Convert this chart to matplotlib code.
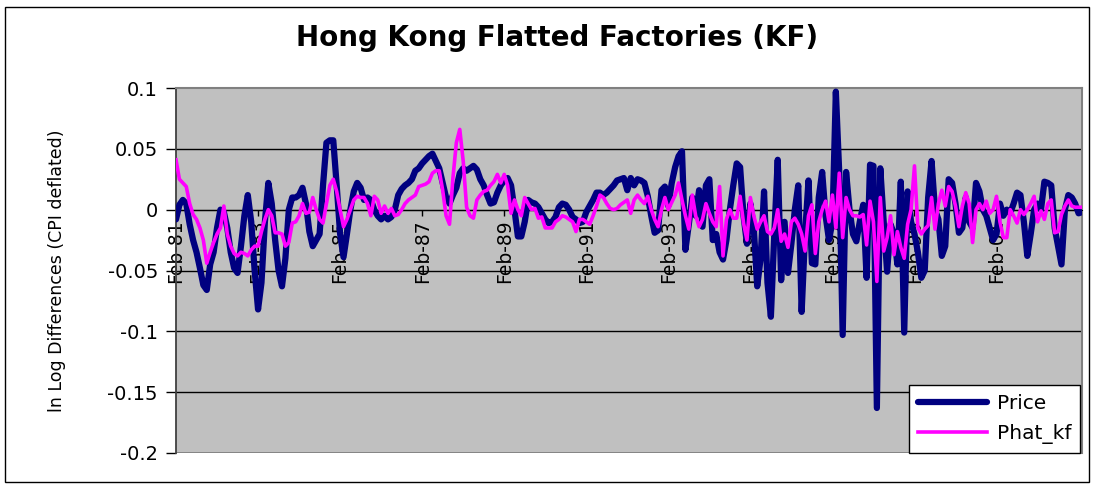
import numpy as np
import matplotlib
matplotlib.use("Agg")
import matplotlib.pyplot as plt
from matplotlib.patches import Rectangle

# monthly ln-differences, Feb-81 onwards
Price = [
    -0.008, 0.004, 0.008, 0.005, -0.012, -0.025, -0.035, -0.048, -0.062, -0.066,
    -0.045, -0.035, -0.015, 0.000, -0.002, -0.015, -0.035, -0.048, -0.052, -0.030,
    -0.005, 0.012, -0.010, -0.050, -0.082, -0.060, -0.010, 0.022, 0.005, -0.025,
    -0.050, -0.063, -0.040, 0.000, 0.010, 0.010, 0.012, 0.018, 0.005, -0.018,
    -0.030, -0.025, -0.020, 0.020, 0.055, 0.057, 0.057, 0.020, -0.020, -0.039,
    -0.020, 0.000, 0.015, 0.022, 0.018, 0.008, 0.010, 0.008, 0.000, -0.005,
    -0.008, -0.005, -0.008, -0.006, 0.000, 0.012, 0.017, 0.020, 0.022, 0.025,
    0.032, 0.034, 0.038, 0.041, 0.044, 0.046, 0.040, 0.034, 0.022, 0.010,
    0.005, 0.012, 0.018, 0.030, 0.034, 0.032, 0.034, 0.036, 0.033, 0.025,
    0.020, 0.012, 0.005, 0.006, 0.014, 0.020, 0.024, 0.026, 0.020, 0.000,
    -0.022, -0.022, -0.010, 0.008, 0.006, 0.005, 0.002, -0.003, -0.008, -0.011,
    -0.010, -0.006, 0.002, 0.005, 0.004, 0.000, -0.006, -0.008, -0.011, -0.010,
    -0.002, 0.003, 0.008, 0.014, 0.014, 0.012, 0.014, 0.017, 0.020, 0.024,
    0.025, 0.026, 0.016, 0.026, 0.020, 0.025, 0.024, 0.022, 0.011, -0.005,
    -0.019, -0.017, 0.016, 0.019, 0.003, 0.022, 0.035, 0.044, 0.048, -0.033,
    -0.012, 0.010, -0.005, 0.016, -0.014, 0.020, 0.025, -0.025, -0.020, -0.035,
    -0.041, -0.025, 0.000, 0.020, 0.038, 0.035, -0.005, -0.028, 0.005, -0.015,
    -0.063, -0.040, 0.015, -0.060, -0.088, -0.020, 0.041, -0.058, -0.010, -0.052,
    -0.028, 0.000, 0.020, -0.084, -0.020, 0.024, -0.044, -0.045, 0.010, 0.031,
    -0.005, -0.025, -0.010, 0.097, 0.030, -0.103, 0.031, 0.000, -0.020, -0.026,
    -0.010, 0.004, -0.056, 0.037, 0.036, -0.163, 0.034, -0.010, -0.051, -0.012,
    -0.020, -0.045, 0.023, -0.101, 0.015, -0.010, -0.020, -0.035, -0.056, -0.050,
    0.010, 0.040, 0.000, -0.008, -0.038, -0.030, 0.025, 0.022, 0.005, -0.019,
    -0.015, 0.010, -0.010, -0.015, 0.022, 0.015, 0.000, -0.005, -0.015, -0.025,
    -0.020, 0.005, -0.005, 0.000, -0.003, 0.005, 0.014, 0.012, -0.010, -0.038,
    -0.020, 0.000, 0.005, 0.000, 0.023, 0.022, 0.020, -0.015, -0.030, -0.045,
    0.000, 0.012, 0.010, 0.005, -0.003, -0.002,
]

Phat_kf = [
    0.041, 0.025, 0.022, 0.019, 0.005, -0.004, -0.008, -0.015, -0.025, -0.044,
    -0.035, -0.027, -0.020, -0.015, 0.003, -0.020, -0.030, -0.036, -0.038, -0.035,
    -0.036, -0.038, -0.033, -0.030, -0.030, -0.018, -0.008, 0.000, -0.005, -0.019,
    -0.019, -0.020, -0.030, -0.027, -0.011, -0.010, -0.005, 0.005, -0.003, -0.002,
    0.010, 0.000, -0.008, -0.011, 0.005, 0.020, 0.025, 0.015, 0.000, -0.014,
    -0.008, 0.000, 0.008, 0.011, 0.010, 0.010, 0.005, -0.005, 0.011, 0.008,
    -0.003, 0.003, -0.003, 0.001, -0.005, -0.004, 0.000, 0.005, 0.008, 0.010,
    0.012, 0.019, 0.020, 0.021, 0.023, 0.030, 0.032, 0.032, 0.016, -0.005,
    -0.012, 0.026, 0.055, 0.066, 0.040, 0.002, -0.005, -0.007, 0.008, 0.012,
    0.015, 0.016, 0.020, 0.023, 0.029, 0.022, 0.029, 0.020, -0.003, 0.008,
    0.000, -0.005, 0.010, 0.005, 0.000, 0.001, -0.007, -0.006, -0.015, -0.015,
    -0.015, -0.010, -0.008, -0.005, -0.006, -0.008, -0.010, -0.018, -0.008, -0.008,
    -0.010, -0.012, -0.005, 0.003, 0.012, 0.010, 0.005, 0.001, 0.000, 0.001,
    0.004, 0.006, 0.008, -0.003, 0.008, 0.012, 0.008, 0.005, 0.011, 0.000,
    -0.008, -0.014, 0.000, 0.010, 0.000, 0.006, 0.012, 0.022, 0.008, -0.005,
    -0.016, 0.012, -0.005, -0.014, -0.008, 0.005, -0.003, -0.010, -0.014, 0.019,
    -0.038, -0.008, 0.000, -0.007, -0.007, 0.011, -0.011, -0.025, 0.010, -0.005,
    -0.016, -0.010, -0.005, -0.018, -0.020, -0.015, 0.000, -0.026, -0.020, -0.031,
    -0.010, -0.007, -0.012, -0.020, -0.034, -0.005, 0.004, -0.036, -0.010, 0.000,
    0.007, -0.010, 0.012, -0.015, 0.030, -0.023, 0.010, 0.000, -0.005, -0.005,
    -0.006, -0.004, -0.029, 0.007, -0.010, -0.059, 0.010, -0.034, -0.023, -0.005,
    -0.037, -0.018, -0.031, -0.040, -0.012, 0.000, 0.036, -0.015, -0.020, -0.016,
    -0.013, 0.010, -0.016, 0.005, 0.016, 0.003, 0.019, 0.015, 0.003, -0.014,
    0.003, 0.014, 0.005, -0.027, 0.000, 0.005, 0.000, 0.007, -0.003, 0.000,
    0.011, -0.010, -0.023, -0.023, 0.000, -0.005, -0.011, 0.000, -0.004, 0.000,
    0.005, 0.011, -0.010, -0.001, -0.008, 0.005, 0.008, -0.019, -0.018, -0.004,
    0.003, 0.008, 0.003, 0.002, 0.002, 0.002,
]

Tick_Labels = ["Feb-81", "Feb-83", "Feb-85", "Feb-87", "Feb-89", "Feb-91",
               "Feb-93", "Feb-95", "Feb-97", "Feb-99", "Feb-01"]
Y_Ticks = [0.1, 0.05, 0, -0.05, -0.1, -0.15, -0.2]
Y_Tick_Labels = ["0.1", "0.05", "0", "-0.05", "-0.1", "-0.15", "-0.2"]

N = len(Price)
x = np.arange(N)

W, H = 1094, 487
fig = plt.figure(figsize=(W / 100, H / 100), dpi=100)
fig.patch.set_facecolor("white")

# chart frame round everything
fig.patches.append(Rectangle((5 / W, 1 - 482 / H), 1084 / W, 475 / H,
                             transform=fig.transFigure, fill=False,
                             edgecolor="black", linewidth=1.0))

ax = fig.add_axes([176 / W, 1 - 453 / H, 906 / W, 365 / H])
ax.set_facecolor("#C0C0C0")

ax.plot(x, Price, color="#000080", linewidth=4.5, solid_joinstyle="round",
        solid_capstyle="round", label="Price", zorder=3)
ax.plot(x, Phat_kf, color="#FF00FF", linewidth=2.6, solid_joinstyle="round",
        label="Phat_kf", zorder=4)

ax.set_xlim(0, N - 1)
ax.set_ylim(-0.2, 0.1)

for yv in Y_Ticks[1:-1]:
    ax.axhline(yv, color="black", linewidth=1.0, zorder=1)

ax.set_yticks(Y_Ticks)
ax.set_yticklabels(Y_Tick_Labels)
ax.tick_params(axis="y", direction="out", length=7, width=1, pad=6,
               labelsize=14, colors="black")

# category axis sits on the zero line
ax.spines["bottom"].set_position(("data", 0))
ax.spines["bottom"].set_color("black")
ax.set_xticks(np.arange(0, N, 24)[:len(Tick_Labels)])
ax.set_xticklabels(Tick_Labels, rotation=90, va="top", ha="center")
ax.tick_params(axis="x", direction="out", length=4, width=1, pad=3,
               labelsize=13.5)
for lab in ax.get_xticklabels():
    lab.set_zorder(5)

ax.spines["left"].set_color("#404040")
ax.spines["left"].set_linewidth(1.3)
ax.spines["top"].set_color("#808080")
ax.spines["right"].set_color("#808080")
ax.spines["top"].set_linewidth(1.5)
ax.spines["right"].set_linewidth(1.5)
ax.axhline(-0.2, color="#808080", linewidth=2, zorder=2)

ax.set_ylabel("ln Log Differences (CPI deflated)", fontsize=12.5, labelpad=30)

fig.text(557 / W, 1 - 38 / H, "Hong Kong Flatted Factories (KF)",
         ha="center", va="center", fontsize=20, fontweight="bold")

leg = ax.legend(loc="lower right", bbox_to_anchor=(0.998, 0.0), fontsize=14.5,
                frameon=True, fancybox=False, edgecolor="black",
                framealpha=1.0, handlelength=3.4, handletextpad=0.5,
                borderpad=0.45, labelspacing=0.55, borderaxespad=0.0)
leg.get_frame().set_linewidth(1.0)
leg.set_zorder(10)

fig.savefig("out.png", dpi=100)
